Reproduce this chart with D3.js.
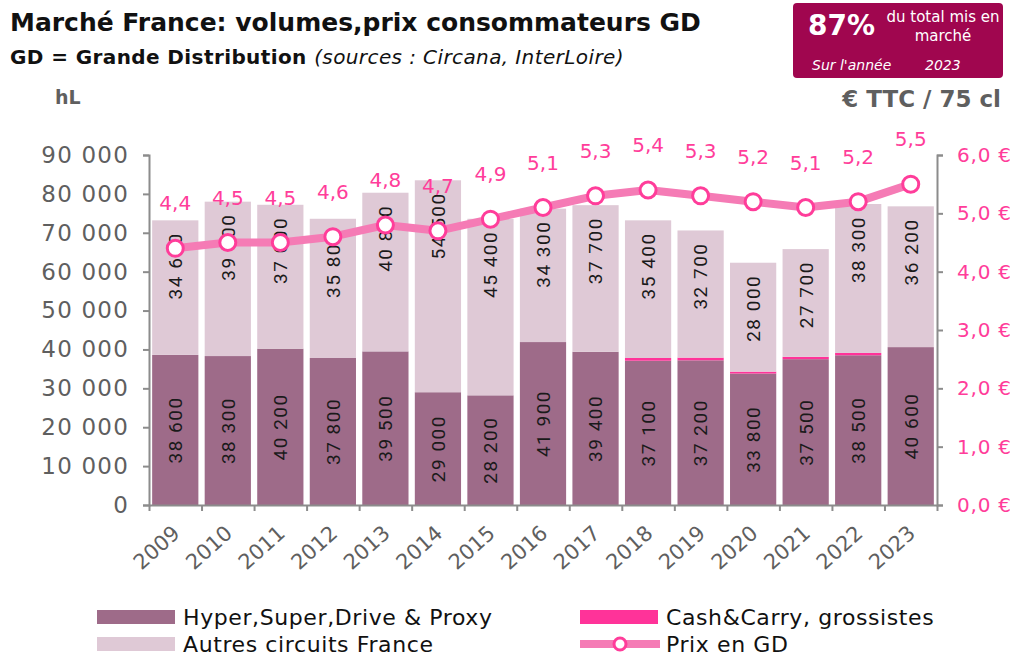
<!DOCTYPE html>
<html>
<head>
<meta charset="utf-8">
<script src="https://cdn.jsdelivr.net/npm/d3@7"></script>
<style>
  body { margin: 0; background: #fff; }
  svg { display: block; }
</style>
</head>
<body>
<svg id="chart" width="1016" height="656"></svg>
<script>
const years = ['2009','2010','2011','2012','2013','2014','2015','2016','2017','2018','2019','2020','2021','2022','2023']
const hyper = [38600,38300,40200,37800,39500,29000,28200,41900,39400,37100,37200,33800,37500,38500,40600]
const cash = [0,0,0,0,0,0,0,0,0,700,700,500,600,600,0]
const autres = [34600,39700,37000,35800,40800,54500,45400,34300,37700,35400,32700,28000,27700,38300,36200]
const prix = [4.4,4.5,4.5,4.6,4.8,4.7,4.9,5.1,5.3,5.4,5.3,5.2,5.1,5.2,5.5]
const volTicks = [0,10000,20000,30000,40000,50000,60000,70000,80000,90000]
const prixTicks = [0,1,2,3,4,5,6]

const svg = d3.select('#chart')
const plotL = 149, plotR = 937, plotT = 155, plotB = 505
const darkCol = '#9e6b89'
const lightCol = '#dfc9d6'
const cashCol = '#ff3399'
const lineCol = '#f57bb5'
const pink = '#ff3d9a'
const grey = '#5f5f5f'
const axisFont = 'DejaVu Sans'

const sp = s => s.replace(/,/g, ' ')
const fmtVol = d => sp(d3.format(',')(d))

const x = d3.scaleBand().domain(years).range([plotL, plotR]).paddingInner(0.12).paddingOuter(0.06)
const xTick = d3.scaleLinear().domain([0, years.length]).range([plotL, plotR])
const y = d3.scaleLinear().domain([0, 90000]).range([plotB, plotT])
const y2 = d3.scaleLinear().domain([0, 6]).range([plotB, plotT])

const rows = years.map((yr, i) => ({ yr, hyper: hyper[i], cash: cash[i], autres: autres[i], prix: prix[i] }))

// stacked bars
const g = svg.selectAll('g.year').data(rows).enter().append('g').attr('class', 'year')

g.append('rect')
  .attr('x', d => x(d.yr)).attr('width', x.bandwidth())
  .attr('y', d => y(d.hyper)).attr('height', d => y(0) - y(d.hyper))
  .attr('fill', darkCol)

g.append('rect')
  .attr('x', d => x(d.yr)).attr('width', x.bandwidth())
  .attr('y', d => y(d.hyper + d.cash)).attr('height', d => y(d.hyper) - y(d.hyper + d.cash))
  .attr('fill', cashCol)

g.append('rect')
  .attr('x', d => x(d.yr)).attr('width', x.bandwidth())
  .attr('y', d => y(d.hyper + d.cash + d.autres)).attr('height', d => y(d.hyper + d.cash) - y(d.hyper + d.cash + d.autres))
  .attr('fill', lightCol)

// bar labels
const labStyle = sel => sel
  .attr('font-family', 'Roboto, sans-serif')
  .attr('font-size', 19)
  .attr('letter-spacing', 1.5)
  .attr('fill', '#1a1a1a')
  .attr('dy', '0.36em')

g.append('text')
  .attr('transform', d => `translate(${x(d.yr) + x.bandwidth() / 2},${(y(0) + y(d.hyper)) / 2}) rotate(-90)`)
  .attr('text-anchor', 'middle')
  .call(labStyle)
  .text(d => fmtVol(d.hyper))

g.append('text')
  .attr('transform', d => `translate(${x(d.yr) + x.bandwidth() / 2},${y(d.hyper + d.cash + d.autres) + 12}) rotate(-90)`)
  .attr('text-anchor', 'end')
  .call(labStyle)
  .text(d => fmtVol(d.autres))

// axes
const axL = svg.append('g').attr('transform', `translate(${plotL},0)`)
  .call(d3.axisLeft(y).tickValues(volTicks).tickSize(6).tickPadding(14).tickFormat(fmtVol))
const axR = svg.append('g').attr('transform', `translate(${plotR},0)`)
  .call(d3.axisRight(y2).tickValues(prixTicks).tickSize(6).tickPadding(14).tickFormat(d => d3.format('.1f')(d).replace('.', ',') + ' €'))
const axB = svg.append('g').attr('transform', `translate(0,${plotB})`)
  .call(d3.axisBottom(xTick).tickValues(d3.range(0, years.length + 1)).tickSize(6).tickSizeOuter(0).tickFormat(''))

svg.selectAll('.domain').attr('stroke', '#8c8c8c').attr('stroke-width', 2)
svg.selectAll('.tick line').attr('stroke', '#8c8c8c').attr('stroke-width', 2)
axL.selectAll('text').attr('font-family', axisFont).attr('font-size', 23).attr('letter-spacing', 1.2).attr('fill', grey)
axR.selectAll('text').attr('font-family', axisFont).attr('font-size', 20).attr('letter-spacing', 0.8).attr('fill', pink)

// year labels
svg.selectAll('text.yr').data(years).enter().append('text')
  .attr('class', 'yr')
  .attr('transform', d => `translate(${x(d) + x.bandwidth() / 2 + 6},${plotB + 30}) rotate(-42)`)
  .attr('text-anchor', 'end')
  .attr('font-family', axisFont).attr('font-size', 21).attr('fill', grey)
  .text(d => d)

// price line
const line = d3.line().x(d => x(d.yr) + x.bandwidth() / 2).y(d => y2(d.prix))
svg.append('path').datum(rows)
  .attr('d', line).attr('fill', 'none')
  .attr('stroke', lineCol).attr('stroke-width', 8).attr('stroke-linejoin', 'round')

svg.selectAll('circle.pt').data(rows).enter().append('circle')
  .attr('class', 'pt')
  .attr('cx', d => x(d.yr) + x.bandwidth() / 2).attr('cy', d => y2(d.prix))
  .attr('r', 8).attr('fill', '#fff').attr('stroke', pink).attr('stroke-width', 3)

svg.selectAll('text.prix').data(rows).enter().append('text')
  .attr('class', 'prix')
  .attr('x', d => x(d.yr) + x.bandwidth() / 2).attr('y', d => y2(d.prix) - 38)
  .attr('text-anchor', 'middle')
  .attr('font-family', axisFont).attr('font-size', 20).attr('fill', pink)
  .text(d => d3.format('.1f')(d.prix).replace('.', ','))

// titles
svg.append('text').attr('x', 10).attr('y', 31)
  .attr('font-family', axisFont).attr('font-weight', 'bold').attr('font-size', 25).attr('fill', '#111')
  .text('Marché France: volumes,prix consommateurs GD')

const sub = svg.append('text').attr('x', 10).attr('y', 64)
  .attr('font-family', axisFont).attr('font-size', 20).attr('letter-spacing', 0.4).attr('fill', '#111')
sub.append('tspan').attr('font-weight', 'bold').text('GD = Grande Distribution ')
sub.append('tspan').attr('font-style', 'italic').text('(sources : Circana, InterLoire)')

svg.append('text').attr('x', 55).attr('y', 104)
  .attr('font-family', axisFont).attr('font-weight', 'bold').attr('font-size', 19).attr('fill', grey)
  .text('hL')

svg.append('text').attr('x', 1001).attr('y', 107).attr('text-anchor', 'end')
  .attr('font-family', axisFont).attr('font-weight', 'bold').attr('font-size', 23).attr('fill', grey)
  .text('€ TTC / 75 cl')

// highlight box
const box = svg.append('g')
box.append('rect').attr('x', 793).attr('y', 3).attr('width', 210).attr('height', 75).attr('rx', 4)
  .attr('fill', '#a0064f')
box.append('text').attr('x', 808).attr('y', 35)
  .attr('font-family', axisFont).attr('font-weight', 'bold').attr('font-size', 28).attr('fill', '#fff')
  .text('87%')
box.append('text').attr('x', 943).attr('y', 22).attr('text-anchor', 'middle')
  .attr('font-family', axisFont).attr('font-size', 15).attr('fill', '#fff')
  .text('du total mis en')
box.append('text').attr('x', 943).attr('y', 41).attr('text-anchor', 'middle')
  .attr('font-family', axisFont).attr('font-size', 15).attr('fill', '#fff')
  .text('marché')
box.append('text').attr('x', 812).attr('y', 70)
  .attr('font-family', axisFont).attr('font-style', 'italic').attr('font-size', 14).attr('fill', '#fff')
  .text("Sur l'année")
box.append('text').attr('x', 925).attr('y', 70)
  .attr('font-family', axisFont).attr('font-style', 'italic').attr('font-size', 14).attr('fill', '#fff')
  .text('2023')

// legend
const legFont = 'DejaVu Sans, sans-serif'
const leg = svg.append('g')
const legItems = [
  { label: 'Hyper,Super,Drive & Proxy', color: darkCol, lx: 97, ly: 617 },
  { label: 'Autres circuits France', color: lightCol, lx: 97, ly: 644 },
  { label: 'Cash&Carry, grossistes', color: cashCol, lx: 580, ly: 617 }
]
legItems.forEach(it => {
  leg.append('rect').attr('x', it.lx).attr('y', it.ly - 7).attr('width', 78).attr('height', 14).attr('fill', it.color)
  leg.append('text').attr('x', it.lx + 86).attr('y', it.ly).attr('dy', '0.35em')
    .attr('font-family', legFont).attr('font-size', 22).attr('letter-spacing', 0.6).attr('fill', '#111')
    .text(it.label)
})
leg.append('line').attr('x1', 580).attr('x2', 660).attr('y1', 644).attr('y2', 644)
  .attr('stroke', lineCol).attr('stroke-width', 8)
leg.append('circle').attr('cx', 620).attr('cy', 644).attr('r', 6)
  .attr('fill', '#fff').attr('stroke', pink).attr('stroke-width', 3)
leg.append('text').attr('x', 666).attr('y', 644).attr('dy', '0.35em')
  .attr('font-family', legFont).attr('font-size', 22).attr('letter-spacing', 0.6).attr('fill', '#111')
  .text('Prix en GD')
</script>
</body>
</html>
